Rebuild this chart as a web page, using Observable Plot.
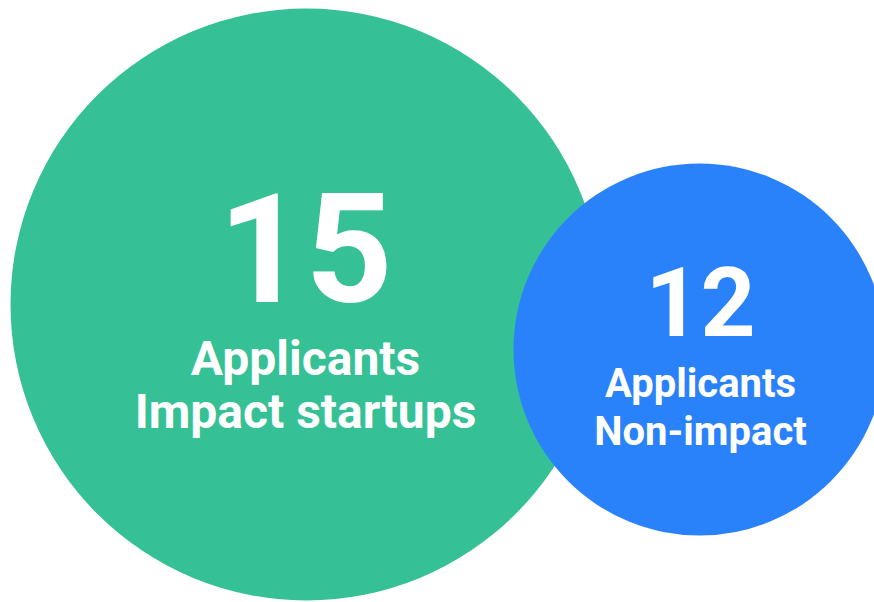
<!DOCTYPE html>
<html>
<head>
<meta charset="utf-8">
<script src="https://cdn.jsdelivr.net/npm/d3@7"></script>
<script src="https://cdn.jsdelivr.net/npm/@observablehq/plot@0.6"></script>
<style>
  html, body { margin: 0; padding: 0; background: #ffffff; overflow: hidden; }
  #chart svg { display: block; }
</style>
</head>
<body>
<div id="chart"></div>
<script>
// Data
const categories = ["Impact startups", "Non-impact"];
const applicants = [15, 12];
const labelWord = "Applicants";

// Layout / style (not data)
const layout = [
  {cx: 306, cy: 304, r: 296, tx: 305, fill: "#35C195", numY: 301, numSize: 152, labY: 427, labSize: 48, lh: 1.1},
  {cx: 699, cy: 349, r: 186, tx: 700, fill: "#2A82FB", numY: 335, numSize: 96, labY: 444, labSize: 40, lh: 1.2}
];

const rows = categories.map((c, i) => ({
  category: c,
  value: applicants[i],
  ...layout[i]
}));

const W = 874, H = 602;
const marks = [
  Plot.dot(rows, {x: "cx", y: "cy", r: "r", fill: "fill", stroke: null})
];
rows.forEach(d => {
  marks.push(Plot.text([d], {
    x: "tx", y: "numY", text: d => String(d.value),
    fill: "white", fontSize: d.numSize, fontWeight: 700,
    fontFamily: "Roboto", lineAnchor: "bottom", textAnchor: "middle"
  }));
  marks.push(Plot.text([d], {
    x: "tx", y: "labY", text: d => labelWord + "\n" + d.category,
    fill: "white", fontSize: d.labSize, fontWeight: 700,
    fontFamily: "Roboto", lineAnchor: "bottom", textAnchor: "middle",
    lineHeight: d.lh
  }));
});

const chart = Plot.plot({
  width: W,
  height: H,
  margin: 0,
  x: {domain: [0, W], range: [0, W], axis: null},
  y: {domain: [0, H], range: [0, H], axis: null},
  r: {type: "identity"},
  color: {type: "identity"},
  style: {background: "white", overflow: "hidden"},
  marks
});
document.getElementById("chart").appendChild(chart);
</script>
</body>
</html>
